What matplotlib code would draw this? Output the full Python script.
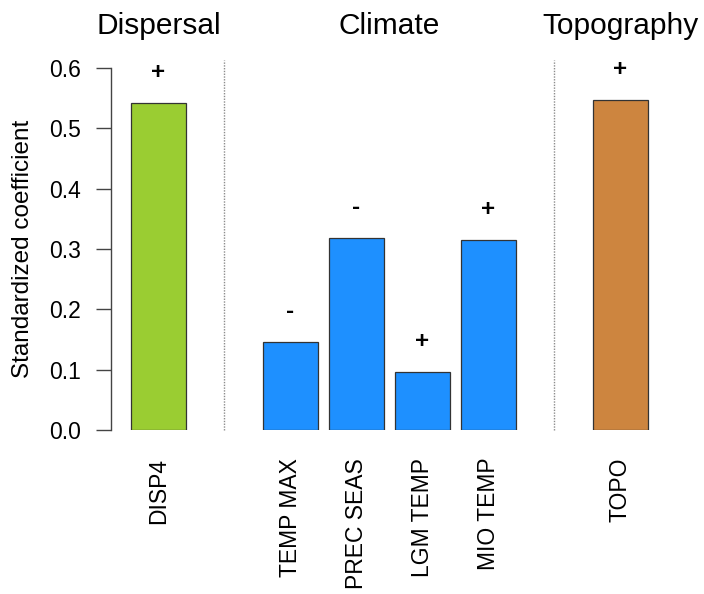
import numpy as np
import matplotlib
matplotlib.use('Agg')
from matplotlib import pyplot as plt
from matplotlib import transforms

plt.rcParams['font.family'] = ['Liberation Sans', 'DejaVu Sans']

# datos
variables = ['DISP4', 'TEMP MAX', 'PREC SEAS', 'LGM TEMP', 'MIO TEMP', 'TOPO']
coefs = [0.542, 0.146, 0.319, 0.096, 0.315, 0.547]
signos = ['+', '-', '-', '+', '+', '+']
grupos = ['Dispersal', 'Climate', 'Climate', 'Climate', 'Climate', 'Topography']
colores_grupo = {'Dispersal': '#9ACD32', 'Climate': '#1E90FF', 'Topography': '#CD853F'}
yticks = [0.0, 0.1, 0.2, 0.3, 0.4, 0.5, 0.6]

# posiciones estilo barplot de R (ancho 1, espacio 0.2), con un hueco entre grupos
slot = 0
pos, huecos = [], []
for i, g in enumerate(grupos):
  if i > 0 and g != grupos[i - 1]:
    huecos.append(0.7 + 1.2 * slot)
    slot += 1
  pos.append(0.7 + 1.2 * slot)
  slot += 1
pos = np.array(pos)

fig = plt.figure(figsize=(7.04, 5.94), dpi=100)
ax = fig.add_axes([111 / 704, 1 - 430 / 594, 559 / 704, 362 / 594])

ax.bar(pos, coefs, width=1.0, color=[colores_grupo[g] for g in grupos],
       edgecolor='#333333', linewidth=0.9)

# signo del efecto encima de cada barra
for x, v, s in zip(pos, coefs, signos):
  ax.text(x, v + 0.05, s, ha='center', va='center', fontsize=17.5,
          fontweight='bold', clip_on=False)

for h in huecos:
  ax.vlines(h, 0, 0.613, colors='#8c8c8c', linestyles=(0, (1, 1)),
            linewidth=1, clip_on=False)

# titulos de grupo
trans = transforms.blended_transform_factory(ax.transData, fig.transFigure)
for g in dict.fromkeys(grupos):
  xs = [p for p, gg in zip(pos, grupos) if gg == g]
  ax.text(np.mean(xs), 1 - 34 / 594, g, ha='center', va='baseline',
          fontsize=21.5, transform=trans)

ax.set_xlim(-0.1636, 10.0)
ax.set_ylim(0, 0.6)
ax.set_xticks(pos)
ax.set_xticklabels(variables, rotation=90, fontsize=16.5)
ax.tick_params(axis='x', length=0, pad=20)
ax.set_yticks(yticks)
ax.set_yticklabels([f'{t:.1f}' for t in yticks], fontsize=16.5)
ax.tick_params(axis='y', length=10.8, width=1, color='#444444', pad=10.8)

for lado in ['top', 'right', 'bottom']:
  ax.spines[lado].set_visible(False)
ax.spines['left'].set_bounds(0, 0.6)
ax.spines['left'].set_color('#444444')
ax.spines['left'].set_linewidth(1)

ax.text((23 - 111) / 559, 0.5, 'Standardized coefficient', rotation=90,
        ha='center', va='center', fontsize=17.5, transform=ax.transAxes)

plt.savefig('out.png', dpi=100)
